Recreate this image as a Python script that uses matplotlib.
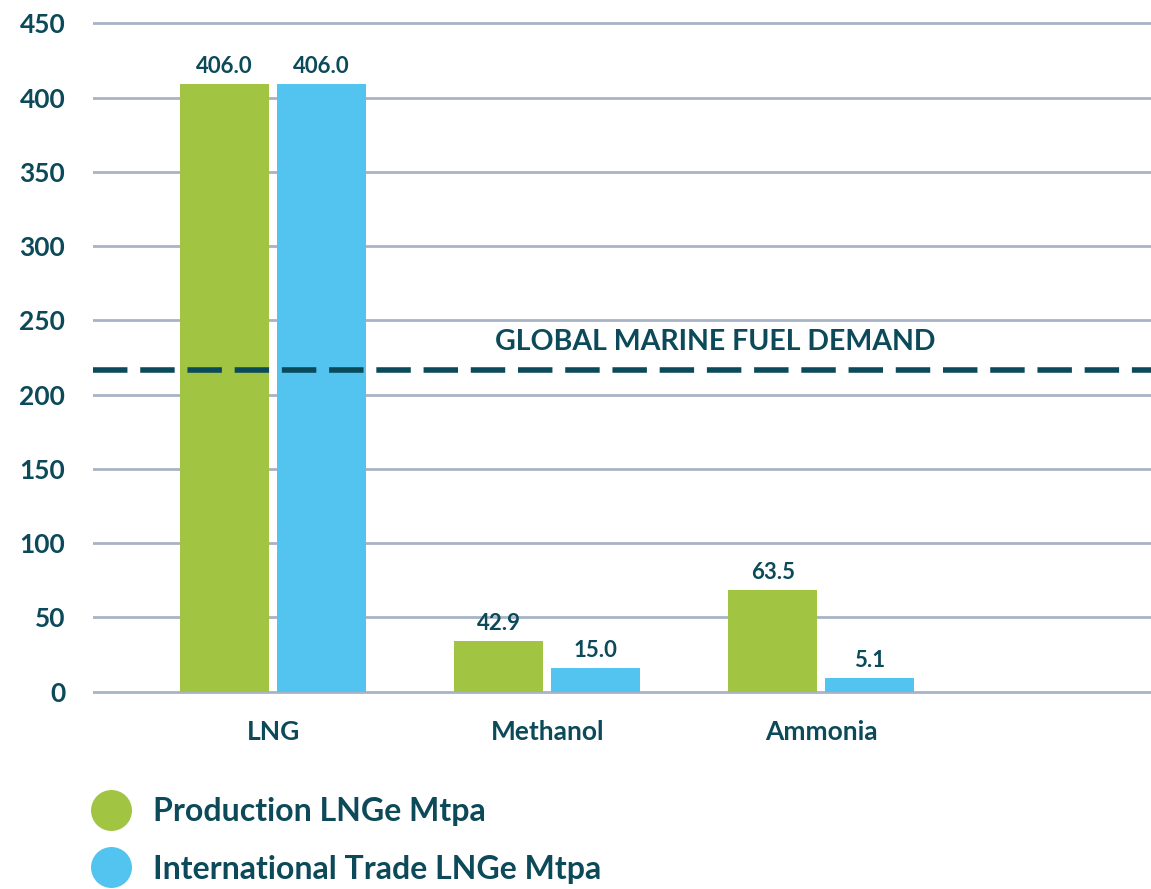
import matplotlib
matplotlib.use("Agg")
import matplotlib.pyplot as plt
from matplotlib.lines import Line2D
import numpy as np

# ---- data ----
categories = ["LNG", "Methanol", "Ammonia"]
production_heights = [409.0, 34.4, 68.7]
trade_heights = [409.0, 16.2, 9.2]
production_labels = ["406.0", "42.9", "63.5"]
trade_labels = ["406.0", "15.0", "5.1"]
demand_level = 216.3
demand_label = "GLOBAL MARINE FUEL DEMAND"
yticks = [0, 50, 100, 150, 200, 250, 300, 350, 400, 450]
series_names = ["Production LNGe Mtpa", "International Trade LNGe Mtpa"]

# ---- style ----
FONT = ["Lato", "DejaVu Sans"]
plt.rcParams["font.family"] = FONT
TEXT = "#0c4a59"
GREEN = "#a1c443"
BLUE = "#53c3f0"
GRID = "#a8b3c6"

W, H = 1151, 889
fig = plt.figure(figsize=(W / 100, H / 100), dpi=100)
ax = fig.add_axes([93 / W, (H - 696.2) / H, (W - 93) / W, (696.2 - 15.9) / H])

x = np.arange(len(categories))
bw = 0.325
off = 0.177
b1 = ax.bar(x - off, production_heights, bw, color=GREEN, zorder=3)
b2 = ax.bar(x + off, trade_heights, bw, color=BLUE, zorder=3)

for bars, labels in ((b1, production_labels), (b2, trade_labels)):
    for rect, lab in zip(bars, labels):
        ax.annotate(lab, (rect.get_x() + rect.get_width() / 2, rect.get_height()),
                    xytext=(0, 8), textcoords="offset points", ha="center",
                    va="baseline", fontsize=16, fontweight="bold", color=TEXT)

ax.axhline(demand_level, color="#0b4a5a", lw=4, ls=(0, (6.2, 2.3)), zorder=4,
           dash_capstyle="butt")
ax.text(1.614, demand_level + 19, demand_label, ha="center", va="center",
        fontsize=20.5, fontweight="bold", color=TEXT)

ax.set_xlim(-0.657, 3.203)
ax.set_ylim(-3, 455)
ax.set_yticks(yticks)
ax.set_yticklabels([str(v) for v in yticks])
ax.set_xticks(x)
ax.set_xticklabels(categories)
ax.tick_params(axis="y", length=0, pad=20, labelsize=19, labelcolor=TEXT)
ax.tick_params(axis="x", length=0, pad=17, labelsize=19, labelcolor=TEXT)
for lab in ax.get_yticklabels() + ax.get_xticklabels():
    lab.set_fontweight("bold")
ax.grid(axis="y", color=GRID, lw=2, zorder=0)
ax.set_axisbelow(True)
for s in ax.spines.values():
    s.set_visible(False)

# ---- legend ----
for (cy, base), col, name in zip(((810, 821), (867, 879)), (GREEN, BLUE), series_names):
    fig.add_artist(Line2D([111 / W], [1 - cy / H], marker="o", markersize=29.5,
                          color=col, markeredgewidth=0, transform=fig.transFigure))
    fig.text(153 / W, 1 - base / H, name, ha="left", va="baseline",
             fontsize=23, fontweight="bold", color=TEXT)

fig.savefig("out.png", dpi=100)
